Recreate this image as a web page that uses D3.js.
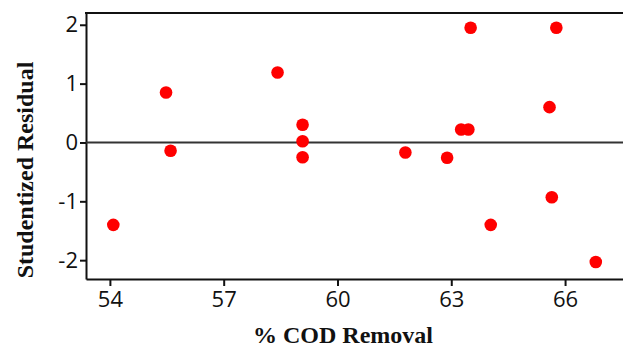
<!DOCTYPE html>
<html>
<head>
<meta charset="utf-8">
<script src="https://cdn.jsdelivr.net/npm/d3@7"></script>
<style>
  body { margin: 0; background: #fff; }
  .tick text { font-family: "Open Sans", sans-serif; font-size: 22px; fill: #111; }
  .title { font-family: "Liberation Serif", "Times New Roman", serif; font-weight: bold; font-size: 24px; fill: #111; }
</style>
</head>
<body>
<svg width="623" height="348"></svg>
<script>
// % COD removal vs studentized residual
var codRemoval = [54.09, 55.48, 55.6, 58.42, 59.08, 59.08, 59.08, 61.79, 62.89, 63.26, 63.45, 63.51, 64.04, 65.59, 65.65, 65.77, 66.81];
var residuals  = [-1.40, 0.85, -0.14, 1.19, 0.30, 0.02, -0.25, -0.17, -0.26, 0.22, 0.22, 1.95, -1.40, 0.60, -0.93, 1.95, -2.03];
var xTicks = [54, 57, 60, 63, 66];
var yTicks = [-2, -1, 0, 1, 2];

var svg = d3.select('svg');
var mLeft = 86, mRight = 625, mTop = 13, mBottom = 279;

var x = d3.scaleLinear().domain([53.37, 67.58]).range([mLeft, mRight]);
var y = d3.scaleLinear().domain([-2.32, 2.2]).range([mBottom, mTop]);

// plain hyphen for negatives, like the original
var plain = function(d) { return String(d); };

var xAxis = svg.append('g')
  .attr('transform', 'translate(0,' + mBottom + ')')
  .call(d3.axisBottom(x).tickValues(xTicks).tickFormat(plain).tickSize(7).tickPadding(5).tickSizeOuter(0));

var yAxis = svg.append('g')
  .attr('transform', 'translate(' + mLeft + ',0)')
  .call(d3.axisLeft(y).tickValues(yTicks).tickFormat(plain).tickSize(6).tickPadding(2).tickSizeOuter(0));

[xAxis, yAxis].forEach(function(g) {
  g.select('.domain').attr('stroke', '#111').attr('stroke-width', 2);
  g.selectAll('.tick line').attr('stroke', '#111').attr('stroke-width', 2);
});

// top frame line
svg.append('line')
  .attr('x1', mLeft - 1).attr('x2', mRight)
  .attr('y1', mTop).attr('y2', mTop)
  .attr('stroke', '#111').attr('stroke-width', 2);

// zero line
svg.append('line')
  .attr('x1', mLeft).attr('x2', mRight)
  .attr('y1', y(0)).attr('y2', y(0))
  .attr('stroke', '#333').attr('stroke-width', 2);

svg.append('g')
  .selectAll('circle')
  .data(codRemoval)
  .enter()
  .append('circle')
  .attr('cx', function(d) { return x(d); })
  .attr('cy', function(d, i) { return y(residuals[i]); })
  .attr('r', 6.3)
  .attr('fill', '#ff0000');

svg.append('text')
  .attr('class', 'title')
  .attr('x', 343)
  .attr('y', 343)
  .attr('text-anchor', 'middle')
  .text('% COD Removal');

svg.append('text')
  .attr('class', 'title')
  .attr('transform', 'translate(33,170) rotate(-90)')
  .attr('text-anchor', 'middle')
  .text('Studentized Residual');
</script>
</body>
</html>
